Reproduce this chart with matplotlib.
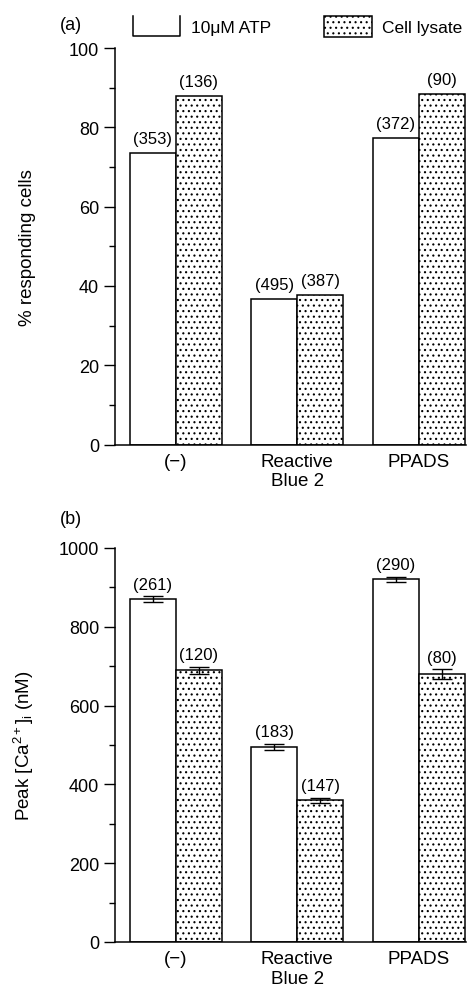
import numpy as np
import matplotlib
matplotlib.use('Agg')
from matplotlib import pyplot as plt
from matplotlib.ticker import MultipleLocator
from matplotlib.patches import Rectangle
from matplotlib.lines import Line2D

plt.rcParams['font.family'] = ['Liberation Sans', 'DejaVu Sans']
plt.rcParams['mathtext.fontset'] = 'custom'
plt.rcParams['mathtext.rm'] = 'Liberation Sans'
plt.rcParams['mathtext.it'] = 'Liberation Sans'
plt.rcParams['hatch.linewidth'] = 0.8

groups = ['(\u2212)', 'Reactive\nBlue 2', 'PPADS']
series = ['10\u03bcM ATP', 'Cell lysate']

# (a) percentage of responding cells
pct_atp = [73.5, 36.6, 77.2]
pct_lys = [87.8, 37.7, 88.4]
n_pct_atp = ['(353)', '(495)', '(372)']
n_pct_lys = ['(136)', '(387)', '(90)']

# (b) peak [Ca2+]i
ca_atp = [870, 495, 920]
ca_lys = [690, 360, 680]
ca_atp_err = [7, 8, 7]
ca_lys_err = [9, 6, 12]
n_ca_atp = ['(261)', '(183)', '(290)']
n_ca_lys = ['(120)', '(147)', '(80)']

x = np.arange(len(groups))
w = 0.38
HATCH = '...'


def draw(ax, atp, lys, n_atp, n_lys, atp_err=None, lys_err=None, ymax=100, step=20, off=1.5):
	ax.bar(x - w / 2, atp, w, color='white', edgecolor='black', linewidth=1.1, zorder=2)
	ax.bar(x + w / 2, lys, w, color='white', edgecolor='black', linewidth=1.1, hatch=HATCH, zorder=2)
	top_atp = np.array(atp, dtype=float)
	top_lys = np.array(lys, dtype=float)
	if atp_err is not None:
		ax.errorbar(x - w / 2, atp, yerr=atp_err, fmt='none', ecolor='black', capsize=7, elinewidth=1, capthick=1, zorder=3)
		ax.errorbar(x + w / 2, lys, yerr=lys_err, fmt='none', ecolor='black', capsize=7, elinewidth=1, capthick=1, zorder=3)
		top_atp += np.array(atp_err)
		top_lys += np.array(lys_err)
	for i in range(len(x)):
		ax.text(x[i] - w / 2, top_atp[i] + off, n_atp[i], ha='center', va='bottom', fontsize=12)
		ax.text(x[i] + w / 2, top_lys[i] + off, n_lys[i], ha='center', va='bottom', fontsize=12)

	ax.set_xlim(-0.5, 2.39)
	ax.set_ylim(0, ymax)
	ax.yaxis.set_major_locator(MultipleLocator(step))
	ax.yaxis.set_minor_locator(MultipleLocator(step / 2))
	ax.tick_params(axis='y', which='major', length=8, width=1, labelsize=13, direction='out')
	ax.tick_params(axis='y', which='minor', length=4, width=1, direction='out')
	ax.tick_params(axis='x', length=0, labelsize=13.5, pad=6)
	ax.set_xticks(x)
	ax.set_xticklabels(groups)
	ax.spines['top'].set_visible(False)
	ax.spines['right'].set_visible(False)
	ax.spines['left'].set_linewidth(1.1)
	ax.spines['bottom'].set_linewidth(1.1)


fig = plt.figure(figsize=(4.7, 9.87), dpi=100)

ax1 = fig.add_axes([0.2447, 0.5486, 0.747, 0.4017])
draw(ax1, pct_atp, pct_lys, n_pct_atp, n_pct_lys, ymax=100, step=20, off=1.8)
ax1.set_ylabel('% responding cells', fontsize=13.5)
ax1.yaxis.set_label_coords(-0.225, 0.5)

ax2 = fig.add_axes([0.2447, 0.0446, 0.747, 0.3992])
draw(ax2, ca_atp, ca_lys, n_ca_atp, n_ca_lys, ca_atp_err, ca_lys_err, ymax=1000, step=200, off=12)
ax2.set_ylabel('Peak [Ca$^{2+}$]$_\\mathregular{i}$ (nM)', fontsize=13.5)
ax2.yaxis.set_label_coords(-0.225, 0.5)

fig.text(60 / 470, 1 - 25 / 987, '(a)', ha='left', va='center', fontsize=13)
fig.text(60 / 470, 1 - 519 / 987, '(b)', ha='left', va='center', fontsize=13)

# legend drawn above panel (a): open-topped white box, dotted box
lx = np.array([133, 133, 180, 180]) / 470
ly = 1 - np.array([17, 37, 37, 17]) / 987
fig.lines.append(Line2D(lx, ly, transform=fig.transFigure, color='black', linewidth=1.1))
fig.patches.append(Rectangle((324 / 470, 1 - 38 / 987), 48 / 470, 21 / 987, transform=fig.transFigure,
	facecolor='white', edgecolor='black', linewidth=1.1, hatch=HATCH))
fig.text(191 / 470, 1 - 28 / 987, series[0], ha='left', va='center', fontsize=12.5)
fig.text(382 / 470, 1 - 28 / 987, series[1], ha='left', va='center', fontsize=12.5)

fig.savefig('out.png', dpi=100)
